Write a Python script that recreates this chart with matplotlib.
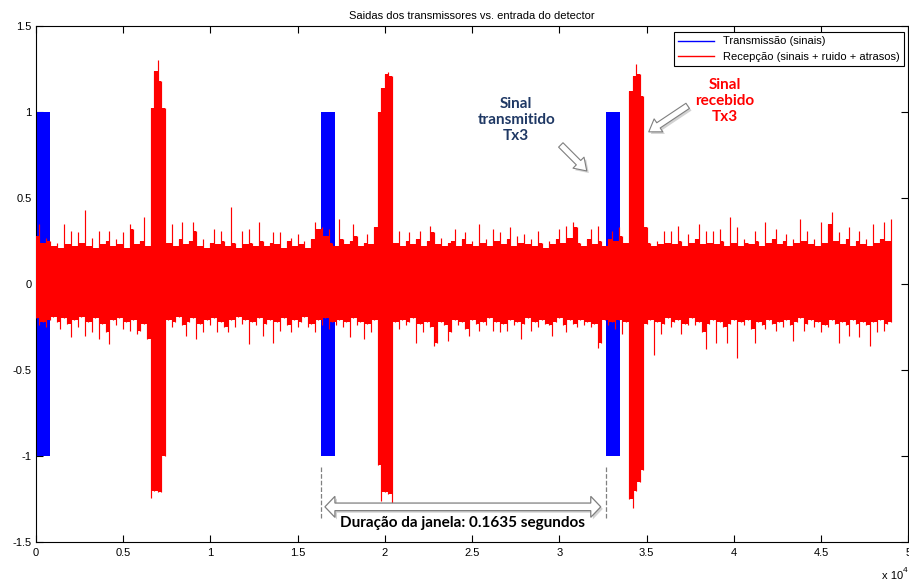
import numpy as np
import matplotlib.pyplot as plt
import matplotlib.patheffects as pe
from matplotlib.lines import Line2D
from matplotlib.patches import FancyArrowPatch, Polygon

plt.rcParams['font.family'] = ['Liberation Sans', 'DejaVu Sans']
plt.rcParams['axes.unicode_minus'] = False

# transmitted pulses: start sample, length (samples), amplitude
tx_start = [0, 16350, 32700]
tx_length = [800, 800, 800]
tx_amp = [1.0, 1.0, 1.0]

# received signal: positive / negative peaks every rx_step samples (x 0.01)
rx_step = 200
rx_upper = [
    28, 35, 24, 27, 25, 22, 24, 21, 35, 23, 31, 22, 30, 24, 43, 22, 27, 21, 31, 23,
    25, 31, 22, 26, 23, 30, 21, 35, 32, 23, 25, 39, 22, 102, 124, 130, 118, 102, 24, 35,
    22, 26, 36, 23, 25, 36, 31, 22, 26, 21, 24, 32, 23, 31, 25, 22, 45, 24, 21, 31,
    23, 32, 24, 22, 36, 25, 22, 24, 30, 23, 30, 21, 25, 27, 22, 29, 23, 25, 21, 26,
    36, 32, 33, 28, 32, 24, 22, 38, 26, 23, 25, 35, 28, 22, 24, 29, 23, 33, 100, 114,
    122, 123, 121, 24, 31, 22, 25, 30, 23, 26, 31, 22, 25, 34, 30, 23, 27, 22, 24, 25,
    32, 22, 26, 30, 23, 25, 22, 35, 24, 26, 22, 32, 25, 30, 23, 26, 33, 22, 28, 24,
    29, 23, 26, 22, 31, 24, 21, 25, 23, 26, 32, 24, 34, 27, 36, 33, 24, 22, 26, 32,
    23, 34, 25, 22, 26, 31, 25, 33, 28, 24, 112, 121, 128, 122, 109, 33, 24, 22, 25, 23,
    31, 24, 31, 23, 34, 25, 22, 29, 24, 26, 35, 23, 31, 24, 31, 23, 32, 25, 22, 39,
    24, 33, 22, 26, 24, 23, 31, 25, 22, 36, 24, 26, 32, 23, 25, 29, 22, 26, 24, 38,
    25, 31, 23, 26, 22, 36, 24, 35, 42, 25, 30, 23, 26, 33, 22, 25, 31, 23, 26, 22,
    35, 24, 26, 36, 25, 38,
]
rx_lower = [
    -20, -24, -22, -25, -21, -19, -22, -26, -20, -23, -31, -21, -25, -19, -30, -22, -28, -20, -32, -23,
    -28, -35, -21, -24, -20, -26, -22, -27, -21, -29, -27, -23, -32, -124, -120, -121, -121, -100, -21, -25,
    -22, -19, -24, -30, -22, -20, -32, -23, -28, -21, -24, -20, -28, -22, -25, -28, -21, -25, -19, -23,
    -21, -35, -22, -24, -20, -30, -23, -21, -34, -22, -27, -20, -24, -28, -21, -25, -22, -19, -25, -23,
    -28, -21, -24, -20, -26, -22, -24, -21, -25, -22, -31, -20, -24, -22, -32, -23, -28, -21, -105, -126,
    -121, -122, -127, -22, -26, -21, -24, -22, -20, -34, -23, -28, -22, -25, -36, -34, -22, -24, -33, -28,
    -21, -24, -22, -26, -30, -21, -23, -27, -22, -24, -20, -27, -22, -28, -23, -27, -21, -24, -22, -32,
    -23, -20, -27, -22, -25, -21, -23, -24, -30, -22, -20, -24, -28, -21, -23, -25, -21, -24, -22, -25,
    -23, -37, -34, -21, -24, -22, -26, -21, -29, -22, -125, -130, -120, -115, -108, -23, -21, -41, -22, -29,
    -23, -20, -25, -22, -21, -29, -23, -24, -20, -24, -22, -28, -38, -23, -21, -34, -22, -25, -34, -23,
    -21, -43, -22, -24, -21, -26, -34, -22, -24, -26, -21, -23, -27, -22, -25, -21, -24, -33, -22, -20,
    -27, -23, -21, -25, -22, -28, -24, -25, -21, -23, -34, -22, -24, -30, -21, -23, -31, -22, -24, -36,
    -22, -28, -21, -27, -23, -22,
]

window_start = 16350
window_end = 32700
window_text = 'Duração da janela: 0.1635 segundos'

fig = plt.figure(figsize=(9.09, 5.81), dpi=100)
ax = fig.add_axes([0.0393, 0.0666, 0.960, 0.889])

# transmitted pulses
for s, n, a in zip(tx_start, tx_length, tx_amp):
    ax.fill_between([s, s + n], -a, a, color='blue', lw=0, zorder=2)

# received signal: solid body between neighbouring peaks + the peaks themselves
up = np.array(rx_upper) / 100.0
lo = np.array(rx_lower) / 100.0
x = np.arange(len(up)) * rx_step
body_up = np.minimum(up, np.append(up[1:], up[-1]))
body_lo = np.maximum(lo, np.append(lo[1:], lo[-1]))
ax.fill_between(x, body_lo, body_up, step='post', color='red', lw=0, zorder=3)
ax.vlines(x, lo, up, color='red', lw=0.85, zorder=3)

ax.set_xlim(0, 50000)
ax.set_ylim(-1.5, 1.5)
xt = np.arange(0, 50001, 5000)
ax.set_xticks(xt)
ax.set_xticklabels(['%g' % (v / 1e4) for v in xt])
yt = np.arange(-1.5, 1.51, 0.5)
ax.set_yticks(yt)
ax.set_yticklabels(['%g' % v for v in yt])
ax.tick_params(direction='in', top=True, right=True, length=5, width=0.8, labelsize=8)
ax.tick_params(axis='x', pad=4)
ax.tick_params(axis='y', pad=3)
for sp in ax.spines.values():
    sp.set_linewidth(0.8)

ax.set_title('Saidas dos transmissores vs. entrada do detector', fontsize=8, pad=5)
fig.text(882 / 909, 1 - 576 / 581, 'x 10', fontsize=8, va='center', ha='left')
fig.text(903 / 909, 1 - 570 / 581, '4', fontsize=6, va='center', ha='left')

handles = [Line2D([], [], color='blue', lw=1), Line2D([], [], color='red', lw=1)]
leg = ax.legend(handles, ['Transmissão (sinais)', 'Recepção (sinais + ruido + atrasos)'],
                loc='upper right', bbox_to_anchor=(0.995, 0.988), borderaxespad=0,
                fontsize=8, fancybox=False, edgecolor='black', framealpha=1,
                handlelength=3.2, borderpad=0.4, labelspacing=0.5)
leg.get_frame().set_linewidth(0.8)
leg.set_zorder(10)

# callouts
note_font = dict(family=['Lato', 'DejaVu Sans'], weight='bold', fontsize=11,
                 ha='center', va='center', linespacing=1.15, zorder=8)
ax.text(27530, 0.953, 'Sinal\ntransmitido\nTx3', color='#1f3864', **note_font)
ax.text(39460, 1.064, 'Sinal\nrecebido\nTx3', color='red', **note_font)
ax.text(24460, -1.386, window_text, color='black', **note_font)

shadow = [pe.withSimplePatchShadow(offset=(1.5, -1.5), alpha=0.25)]
arrow_kw = dict(arrowstyle='simple,head_width=0.8,head_length=0.6,tail_width=0.32',
                mutation_scale=14, fc='white', ec='#7f7f7f', lw=0.8,
                shrinkA=0, shrinkB=0, zorder=8, path_effects=shadow)
ax.add_patch(FancyArrowPatch((30085, 0.808), (31573, 0.657), **arrow_kw))
ax.add_patch(FancyArrowPatch((37356, 1.035), (35125, 0.884), **arrow_kw))

# window markers and double arrow
for xm in (window_start, window_end):
    ax.plot([xm, xm], [-1.06, -1.37], ls='--', color='#808080', lw=0.9, zorder=7)


def double_arrow(ax, x0, x1, y, head_len, head_h, shaft_h, **kw):
    pts = [(x0, y), (x0 + head_len, y + head_h), (x0 + head_len, y + shaft_h),
           (x1 - head_len, y + shaft_h), (x1 - head_len, y + head_h), (x1, y),
           (x1 - head_len, y - head_h), (x1 - head_len, y - shaft_h),
           (x0 + head_len, y - shaft_h), (x0 + head_len, y - head_h)]
    ax.add_patch(Polygon(pts, closed=True, **kw))


double_arrow(ax, 16570, 32375, -1.294, 573, 0.061, 0.022,
             fc='white', ec='#7f7f7f', lw=0.9, zorder=8, path_effects=shadow)

fig.savefig('out.png', dpi=100)
